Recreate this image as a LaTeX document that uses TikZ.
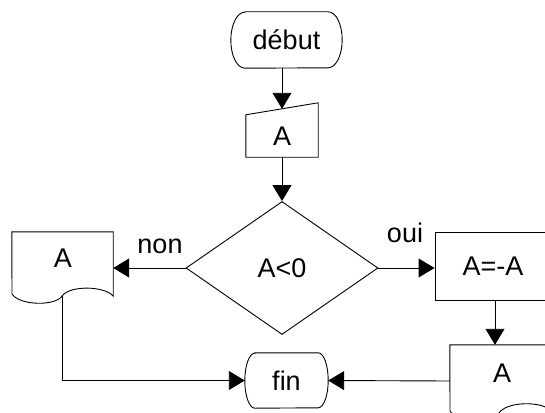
\documentclass[tikz,border=0pt]{standalone}
\usepackage{fontspec}
\setmainfont{Liberation Sans}
\usetikzlibrary{shapes.geometric,arrows.meta}
\begin{document}
\begin{tikzpicture}[x=1pt,y=-1pt,
  lbl/.style={font=\fontsize{27}{30}\selectfont, inner sep=0pt},
  box/.style={draw, line width=0.9pt, inner sep=0pt, font=\fontsize{27}{30}\selectfont},
  shp/.style={line width=0.9pt},
  conn/.style={line width=0.9pt, -{Triangle[length=16pt,width=19pt]}}
]
\useasboundingbox (0,0) rectangle (545,412);
\clip (0,0) rectangle (545,412);

% start
\node[lbl, minimum width=111pt, minimum height=56pt] (debut) at (286.5,40) {début};
\draw[shp] ([xshift=14pt]debut.north west) -- ([xshift=-14pt]debut.north east)
  arc[start angle=90, end angle=-90, x radius=14pt, y radius=28pt]
  -- ([xshift=14pt]debut.south west)
  arc[start angle=270, end angle=90, x radius=14pt, y radius=28pt] -- cycle;

% manual input
\node[lbl, minimum width=72pt, minimum height=42pt] (inp) at (282,136) {A};
\draw[shp] (inp.south west) -- (inp.south east) -- ([yshift=12pt]inp.north east) -- (inp.north west) -- cycle;

% decision
\node[draw, diamond, line width=0.9pt, minimum width=192pt, minimum height=133pt, aspect=1.44, inner sep=0pt, font=\fontsize{27}{30}\selectfont] (dec) at (282,268) {A<0};

% left document
\node[lbl, minimum width=101pt, minimum height=64pt] (doc1) at (62.5,264) {};
\node[lbl] at (63,258) {A};
\draw[shp] (doc1.south east) -- (doc1.north east) -- (doc1.north west) -- (12,294)
  .. controls (20,306) and (56,306) .. (62,296)
  .. controls (70,285) and (105,286) .. (113,296) -- cycle;

% assignment
\node[box, minimum width=116pt, minimum height=68pt] (neg) at (493,266) {A=-A};

% right document
\node[lbl, minimum width=101pt, minimum height=68pt] (doc2) at (500.5,379) {};
\node[lbl] at (502,373) {A};
\draw[shp] (doc2.south east) -- (doc2.north east) -- (doc2.north west) -- (450,411)
  .. controls (458,423) and (494,423) .. (499,413)
  .. controls (507,401) and (543,401) .. (551,411) -- cycle;

% end
\node[lbl, minimum width=83pt, minimum height=55pt] (fin) at (286.5,380.5) {fin};
\draw[shp] ([xshift=10pt]fin.north west) -- ([xshift=-10pt]fin.north east)
  arc[start angle=90, end angle=-90, x radius=10pt, y radius=27.5pt]
  -- ([xshift=10pt]fin.south west)
  arc[start angle=270, end angle=90, x radius=10pt, y radius=27.5pt] -- cycle;

% labels
\node[lbl] (non) at (160,246) {non};
\node[lbl] (oui) at (405,233) {oui};

% connectors
\draw[conn] (debut.south -| inp.north) -- ([yshift=6pt]inp.north);
\draw[conn] (inp.south) -- (dec.north);
\draw[conn] (dec.west) -- (doc1.east |- dec.west);
\draw[conn] (dec.east) -- (neg.west |- dec.east);
\draw[conn] (neg.south -| 495,0) -- (doc2.north -| 495,0);
\draw[conn] (doc1.south) |- (fin.west);
\draw[conn] (doc2.west |- 0,381) -- (fin.east);
\end{tikzpicture}
\end{document}
